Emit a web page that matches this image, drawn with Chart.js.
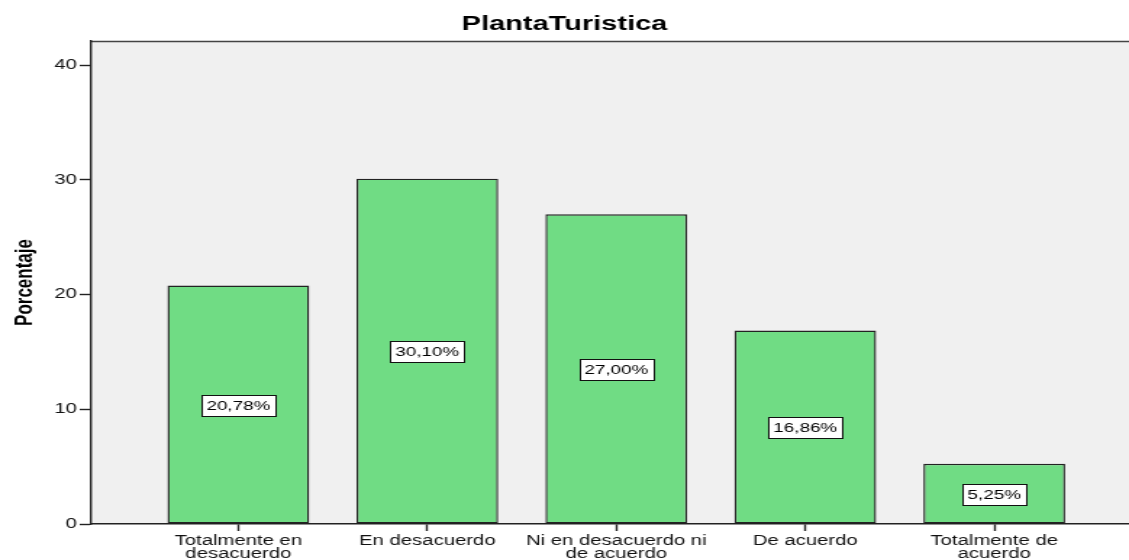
<!DOCTYPE html>
<html>
<head>
<meta charset="utf-8">
<title>PlantaTuristica</title>
<script src="https://cdn.jsdelivr.net/npm/chart.js@4/dist/chart.umd.min.js"></script>
<style>
  html, body { margin: 0; padding: 0; background: #fff; }
  #wrap { width: 1129px; height: 560px; }
  /* the original export is stretched sideways, so draw narrow and widen with css */
  #chart { width: 1129px; height: 560px; }
</style>
</head>
<body>
<div id="wrap"><canvas id="chart" width="779" height="560" style="width:1129px;height:560px"></canvas></div>
<script>
// PlantaTuristica - porcentaje por respuesta

const categories = [
  ["Totalmente en", "desacuerdo"],
  "En desacuerdo",
  ["Ni en desacuerdo ni", "de acuerdo"],
  "De acuerdo",
  ["Totalmente de", "acuerdo"]
];
const percentages = [20.78, 30.10, 27.00, 16.86, 5.25];
const yTicks = [0, 10, 20, 30, 40];

const fontFamily = "'Liberation Sans', Arial, sans-serif";
const axisColor = "#222222";

Chart.defaults.font.family = fontFamily;
Chart.defaults.color = "#000";

const plotBackground = {
  id: "plotBackground",
  beforeDraw(chart) {
    const { ctx, chartArea: a } = chart;
    ctx.save();
    ctx.fillStyle = "#f0f0f0";
    ctx.fillRect(a.left, a.top, a.right - a.left, a.bottom - a.top);
    ctx.strokeStyle = "#444";
    ctx.lineWidth = 1.5;
    ctx.beginPath();
    ctx.moveTo(a.left, a.top + 0.5);
    ctx.lineTo(a.right, a.top + 0.5);
    ctx.stroke();
    ctx.restore();
  }
};

function formatPct(v) {
  return v.toFixed(2).replace(".", ",") + "%";
}

const barLabels = {
  id: "barLabels",
  afterDatasetsDraw(chart) {
    const ctx = chart.ctx;
    const meta = chart.getDatasetMeta(0);
    ctx.save();
    ctx.font = "13px " + fontFamily;
    ctx.textAlign = "center";
    ctx.textBaseline = "middle";
    ctx.lineWidth = 1;
    meta.data.forEach((bar, i) => {
      const text = formatPct(percentages[i]);
      const y = Math.round((bar.y + bar.base) / 2);
      const w = Math.round(ctx.measureText(text).width + 7);
      const h = 21;
      const x0 = Math.round(bar.x - w / 2);
      const y0 = Math.round(y - h / 2);
      ctx.fillStyle = "#fff";
      ctx.fillRect(x0, y0, w, h);
      ctx.strokeStyle = "#111";
      ctx.strokeRect(x0 + 0.5, y0 + 0.5, w, h);
      ctx.fillStyle = "#000";
      ctx.fillText(text, bar.x, y0 + h / 2 + 1);
    });
    ctx.restore();
  }
};

const ctx = document.getElementById("chart").getContext("2d");

new Chart(ctx, {
  type: "bar",
  data: {
    datasets: [
      {
        data: percentages.map((v, i) => ({ x: i, y: v })),
        backgroundColor: "#70dc84",
        borderColor: "#222",
        borderWidth: 1.4,
        borderSkipped: false,
        barPercentage: 0.75,
        categoryPercentage: 1
      }
    ]
  },
  options: {
    responsive: false,
    animation: false,
    devicePixelRatio: 1,
    layout: { padding: 0 },
    plugins: {
      legend: { display: false },
      tooltip: { enabled: false },
      title: {
        display: true,
        text: "PlantaTuristica",
        color: "#000",
        font: { family: fontFamily, size: 20, weight: "bold", lineHeight: 1.2 },
        padding: { top: 12, bottom: 5 }
      }
    },
    scales: {
      x: {
        type: "linear",
        min: -0.778,
        max: 4.713,
        offset: false,
        afterBuildTicks: (s) => {
          s.ticks = categories.map((_, i) => ({ value: i }));
        },
        afterFit: (s) => {
          s.height = 36;
        },
        grid: {
          offset: false,
          drawOnChartArea: false,
          drawTicks: true,
          tickLength: 7,
          tickColor: axisColor,
          tickWidth: 1.4
        },
        border: { display: true, color: axisColor, width: 1.4 },
        ticks: {
          callback: (v) => categories[v],
          color: "#111",
          font: { size: 14, lineHeight: 0.93 },
          padding: 4,
          maxRotation: 0,
          autoSkip: false
        }
      },
      y: {
        min: 0,
        max: 42.1,
        afterBuildTicks: (s) => {
          s.ticks = yTicks.map((v) => ({ value: v }));
        },
        afterFit: (s) => {
          s.width = 63;
        },
        title: {
          display: true,
          text: "Porcentaje",
          color: "#000",
          font: { size: 17, weight: "bold", lineHeight: 1.2 },
          padding: { top: 7, bottom: 0 }
        },
        grid: {
          drawOnChartArea: false,
          drawTicks: true,
          tickLength: 8,
          tickColor: axisColor,
          tickWidth: 1.4
        },
        border: { display: true, color: axisColor, width: 1.4 },
        ticks: {
          color: "#111",
          font: { size: 14 },
          padding: 2
        }
      }
    }
  },
  plugins: [plotBackground, barLabels]
});
</script>
</body>
</html>
